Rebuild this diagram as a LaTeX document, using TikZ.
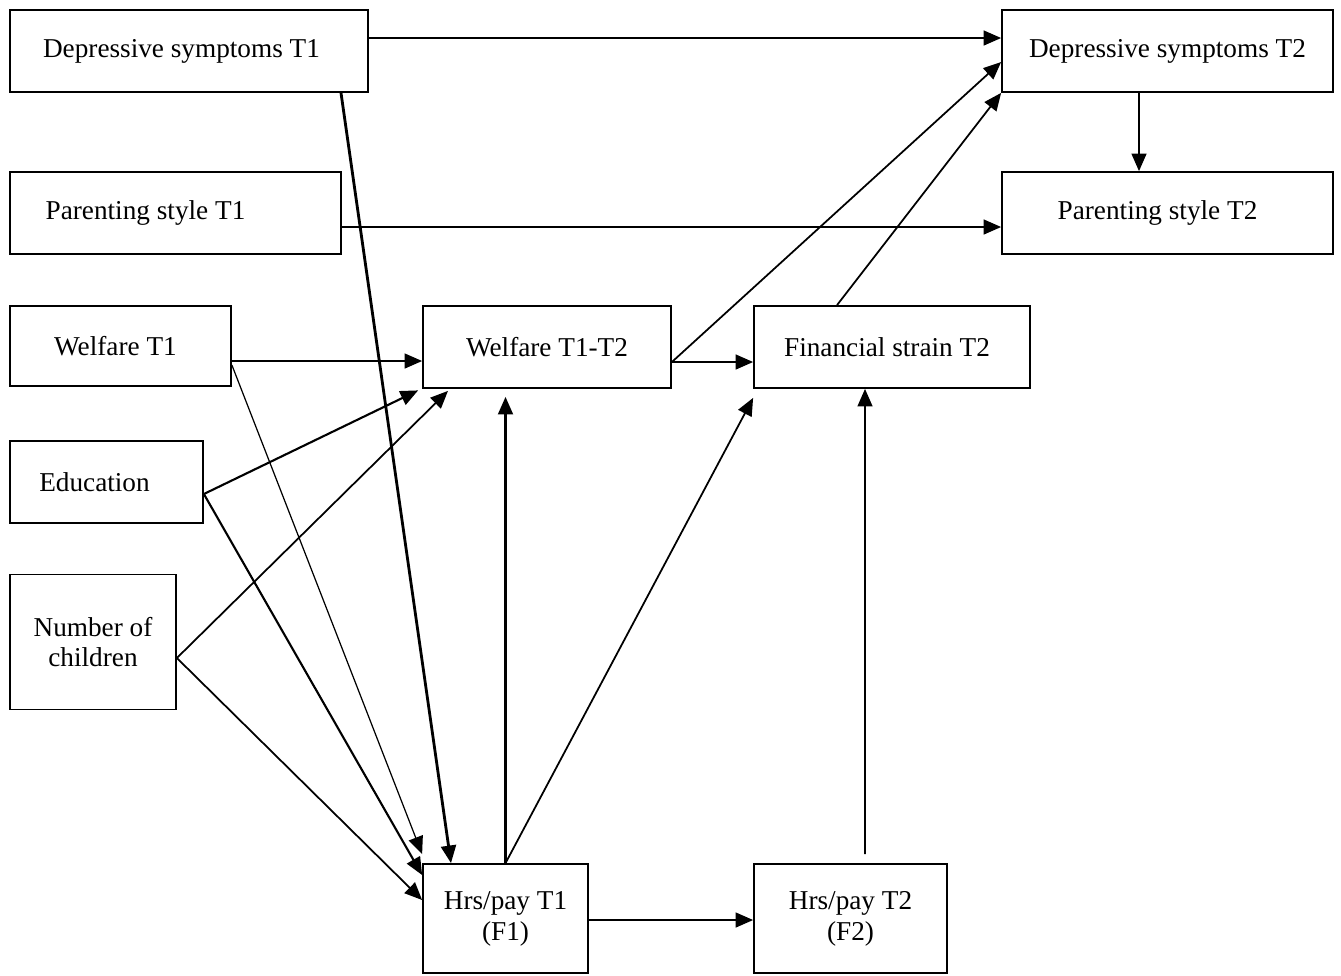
\documentclass[tikz,border=0pt]{standalone}
\usepackage{fontspec}
\setmainfont{Liberation Serif}
\usetikzlibrary{arrows.meta}
\tikzstyle{var}=[draw, line width=1pt, inner sep=0pt, align=center, font=\fontsize{15.5}{17.6}\selectfont]
\tikzstyle{arr}=[-{Triangle[length=10pt,width=8.5pt]}, line width=1pt]

\begin{document}
\begin{tikzpicture}
	\useasboundingbox (0,0) rectangle (26.82,-19.5);
	% variables
	\node[var, minimum width=7.16cm, minimum height=1.64cm] (ds1) at (3.78,-1.02) {Depressive symptoms T1\hspace*{0.3cm}};
	\node[var, minimum width=6.62cm, minimum height=1.64cm] (ds2) at (23.35,-1.02) {Depressive symptoms T2};
	\node[var, minimum width=6.62cm, minimum height=1.64cm] (ps1) at (3.51,-4.26) {Parenting style T1\hspace*{1.2cm}};
	\node[var, minimum width=6.62cm, minimum height=1.64cm] (ps2) at (23.35,-4.26) {Parenting style T2\hspace*{0.4cm}};
	\node[var, minimum width=4.42cm, minimum height=1.6cm] (wf1) at (2.41,-6.92) {Welfare T1\hspace*{0.2cm}};
	\node[var, minimum width=4.96cm, minimum height=1.64cm] (wf12) at (10.94,-6.94) {Welfare T1-T2};
	\node[var, minimum width=5.52cm, minimum height=1.64cm] (fs2) at (17.84,-6.94) {Financial strain T2\hspace*{0.2cm}};
	\node[var, minimum width=3.86cm, minimum height=1.64cm] (edu) at (2.13,-9.64) {Education\hspace*{0.48cm}};
	\node[var, minimum width=3.32cm, minimum height=2.7cm] (nkids) at (1.86,-12.84) {Number of\\children};
	\node[var, minimum width=3.3cm, minimum height=2.18cm] (hp1) at (10.11,-18.37) {Hrs/pay T1\\(F1)};
	\node[var, minimum width=3.86cm, minimum height=2.18cm] (hp2) at (17.01,-18.37) {Hrs/pay T2\\(F2)};
	% paths
	\draw[arr] ([yshift=0.26cm]ds1.east) -- ([yshift=0.26cm]ds2.west);
	\draw[arr, line width=1.6pt] ([xshift=3.04cm]ds1.south) -- ([xshift=-1.09cm]hp1.north);
	\draw[arr] ([yshift=-0.28cm]ps1.east) -- ([yshift=-0.28cm]ps2.west);
	\draw[arr] ([xshift=-0.57cm]ds2.south) -- ([xshift=-0.57cm]ps2.north);
	\draw[arr] ([yshift=-0.30cm]wf1.east) -- ([yshift=-0.28cm]wf12.west);
	\draw[arr, line width=0.7pt] ([yshift=-0.38cm]wf1.east) -- ([yshift=0.18cm]hp1.north west);
	\draw[arr, line width=1.2pt] ([yshift=-0.24cm]edu.east) -- ([shift={(-0.08,-0.03)}]wf12.south west);
	\draw[arr, line width=1.2pt] ([yshift=-0.24cm]edu.east) -- ([yshift=0.87cm]hp1.west);
	\draw[arr] ([yshift=-0.32cm]nkids.east) -- ([shift={(-1.98,-0.04)}]wf12.south);
	\draw[arr] ([yshift=-0.32cm]nkids.east) -- ([yshift=0.37cm]hp1.west);
	\draw[arr] ([yshift=-0.30cm]wf12.east) -- ([yshift=-0.30cm]fs2.west);
	\draw[arr] ([yshift=-0.30cm]wf12.east) -- ([yshift=-0.22cm]ds2.west);
	\draw[arr] ([xshift=-1.10cm]fs2.north) -- (ds2.south west);
	\draw[arr, line width=1.2pt, shorten >=0.16cm] (hp1.north) -- (hp1.north |- wf12.south);
	\draw[arr] (hp1.north) -- ([yshift=-0.18cm]fs2.south west);
	\draw[arr] ([xshift=0.29cm,yshift=0.18cm]hp2.north) -- ([xshift=-0.54cm]fs2.south);
	\draw[arr] ([yshift=-0.03cm]hp1.east) -- ([yshift=-0.03cm]hp2.west);
\end{tikzpicture}
\end{document}
